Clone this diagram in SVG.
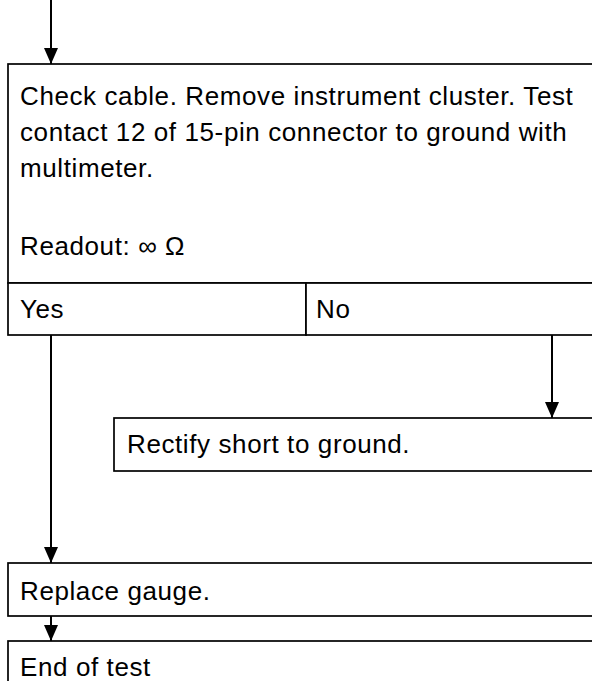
<svg xmlns="http://www.w3.org/2000/svg" width="592" height="681" viewBox="0 0 592 681">
<defs>
<marker id="ah" viewBox="0 0 16 14" refX="16" refY="7" markerWidth="16" markerHeight="14" markerUnits="userSpaceOnUse" orient="auto">
<path d="M0,0 L16,7 L0,14 Z" fill="#000"/>
</marker>
</defs>
<style>
.box{fill:#fff;stroke:#000;stroke-width:1.7}
.t{font-family:"Liberation Sans",Arial,sans-serif;font-size:26px;fill:#000;letter-spacing:0.6px}
.c{stroke:#000;stroke-width:2;fill:none}
</style>
<rect width="592" height="681" fill="#fff"/>
<g id="check">
<rect class="box" x="8" y="64" width="600" height="219"/>
<text class="t" x="20" y="105">Check cable. Remove instrument cluster. Test</text>
<text class="t" x="20" y="141">contact 12 of 15-pin connector to ground with</text>
<text class="t" x="20" y="177">multimeter.</text>
<text class="t" x="20" y="255">Readout: ∞ Ω</text>
</g>
<g id="yes">
<rect class="box" x="8" y="283" width="298" height="52"/>
<text class="t" x="20" y="318">Yes</text>
</g>
<g id="no">
<rect class="box" x="306" y="283" width="302" height="52"/>
<text class="t" x="316" y="318">No</text>
</g>
<g id="rectify">
<rect class="box" x="114" y="418" width="494" height="53"/>
<text class="t" x="127" y="453">Rectify short to ground.</text>
</g>
<g id="replace">
<rect class="box" x="8" y="563" width="600" height="53"/>
<text class="t" x="20" y="600">Replace gauge.</text>
</g>
<g id="end">
<rect class="box" x="8" y="641" width="600" height="60"/>
<text class="t" x="20" y="676">End of test</text>
</g>
<g id="connectors">
<line class="c" x1="51" y1="0" x2="51" y2="64" marker-end="url(#ah)"/>
<line class="c" x1="51" y1="335" x2="51" y2="563" marker-end="url(#ah)"/>
<line class="c" x1="552" y1="335" x2="552" y2="418" marker-end="url(#ah)"/>
<line class="c" x1="51" y1="616" x2="51" y2="641" marker-end="url(#ah)"/>
</g>
</svg>
